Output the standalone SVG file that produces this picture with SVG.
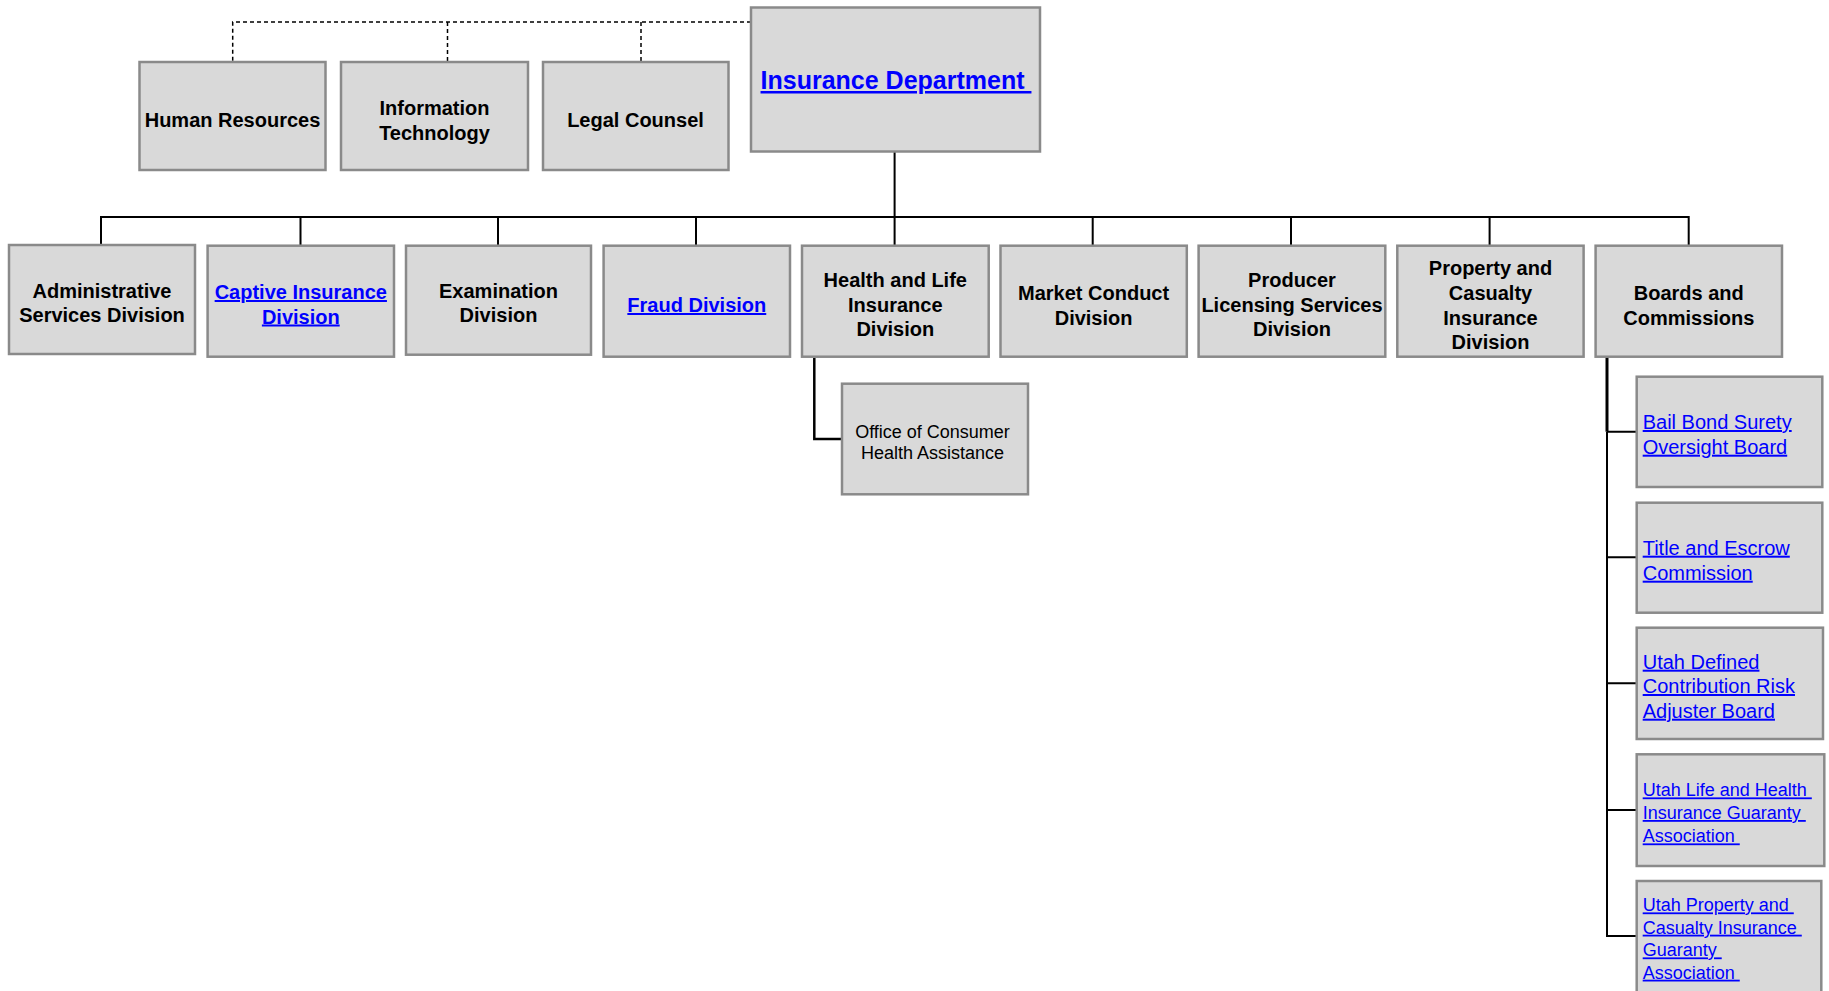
<svg xmlns="http://www.w3.org/2000/svg" width="1829" height="991" viewBox="0 0 1829 991">
<style>
.box{fill:#d9d9d9;stroke:#8a8a8a;stroke-width:2.5}
.b{font-family:"Liberation Sans",Arial,sans-serif;font-weight:bold;font-size:20px;fill:#000;text-anchor:middle}
.bl{font-family:"Liberation Sans",Arial,sans-serif;font-weight:bold;font-size:20px;fill:#0000ff;text-anchor:middle;text-decoration:underline}
.r{font-family:"Liberation Sans",Arial,sans-serif;font-size:18px;fill:#000;text-anchor:middle}
.l20{font-family:"Liberation Sans",Arial,sans-serif;font-size:20px;fill:#0000ff;text-decoration:underline;white-space:pre}
.l18{font-family:"Liberation Sans",Arial,sans-serif;font-size:18px;fill:#0000ff;text-decoration:underline;white-space:pre}
.c{stroke:#000;stroke-width:2;fill:none}
.d{stroke:#000;stroke-width:1.5;fill:none;stroke-dasharray:4 3}
</style>
<rect width="1829" height="991" fill="#fff"/>
<g id="connectors">
<path class="d" d="M751 22 H232.7 V62 M447.5 22 V62 M641 22 V62"/>
<path class="c" d="M894.6 152 V217 M101 217 H1688.7 M101 216 V245 M300.5 216 V245 M498 216 V245 M696 216 V245 M894.6 216 V245 M1092.7 216 V245 M1291 216 V245 M1489.6 216 V245 M1688.7 216 V245"/>
<path class="c" style="stroke-width:2.5" d="M814.3 358 V439 H842"/>
<path class="c" style="stroke-width:3" d="M1607 357 V431.7"/>
<path class="c" d="M1607 431.7 V936 H1637 M1607 431.7 H1637 M1607 557.3 H1637 M1607 683.3 H1637 M1607 810 H1637"/>
</g>
<g id="dept"><rect class="box" x="751" y="7.5" width="289" height="144"/><text class="bl" x="896" y="89" style="font-size:25px;white-space:pre">Insurance Department </text></g>
<g id="hr"><rect class="box" x="139.5" y="62" width="186" height="108"/><text class="b" x="232.5" y="127">Human Resources</text></g>
<g id="it"><rect class="box" x="341" y="62" width="187" height="108"/><text class="b" x="434.5" y="114.5">Information</text><text class="b" x="434.5" y="139.5">Technology</text></g>
<g id="legal"><rect class="box" x="543" y="62" width="185.5" height="108"/><text class="b" x="635.5" y="127">Legal Counsel</text></g>
<g id="admin"><rect class="box" x="9" y="245" width="186" height="109"/><text class="b" x="102" y="297.7">Administrative</text><text class="b" x="102" y="322.2">Services Division</text></g>
<g id="captive"><rect class="box" x="207.6" y="245.7" width="186.4" height="111"/><text class="bl" x="300.8" y="299">Captive Insurance</text><text class="bl" x="300.8" y="323.5">Division</text></g>
<g id="exam"><rect class="box" x="406" y="245.7" width="185" height="109"/><text class="b" x="498.5" y="297.7">Examination</text><text class="b" x="498.5" y="322.2">Division</text></g>
<g id="fraud"><rect class="box" x="603.6" y="245.7" width="186.4" height="111"/><text class="bl" x="696.8" y="312">Fraud Division</text></g>
<g id="health"><rect class="box" x="802" y="245.7" width="186.7" height="111"/><text class="b" x="895.3" y="287">Health and Life</text><text class="b" x="895.3" y="312">Insurance</text><text class="b" x="895.3" y="336">Division</text></g>
<g id="office"><rect class="box" x="842" y="383.7" width="186" height="110.6"/><text class="r" x="932.5" y="437.5">Office of Consumer</text><text class="r" x="932.5" y="458.5">Health Assistance</text></g>
<g id="market"><rect class="box" x="1000.5" y="245.7" width="186.3" height="111"/><text class="b" x="1093.6" y="300">Market Conduct</text><text class="b" x="1093.6" y="324.5">Division</text></g>
<g id="producer"><rect class="box" x="1198.6" y="245.7" width="186.7" height="111"/><text class="b" x="1292" y="287">Producer</text><text class="b" x="1292" y="312">Licensing Services</text><text class="b" x="1292" y="336">Division</text></g>
<g id="pc"><rect class="box" x="1397.3" y="245.7" width="186.3" height="111"/><text class="b" x="1490.5" y="275">Property and</text><text class="b" x="1490.5" y="300">Casualty</text><text class="b" x="1490.5" y="324.5">Insurance</text><text class="b" x="1490.5" y="349">Division</text></g>
<g id="boards"><rect class="box" x="1595.6" y="245.7" width="186.4" height="111"/><text class="b" x="1688.8" y="300">Boards and</text><text class="b" x="1688.8" y="324.5">Commissions</text></g>
<g id="bail"><rect class="box" x="1636.7" y="376.7" width="185.6" height="110.3"/><text class="l20" x="1642.7" y="429">Bail Bond Surety</text><text class="l20" x="1642.7" y="453.7">Oversight Board</text></g>
<g id="title"><rect class="box" x="1636.7" y="502.7" width="185.6" height="110"/><text class="l20" x="1642.7" y="554.7">Title and Escrow</text><text class="l20" x="1642.7" y="579.7">Commission</text></g>
<g id="udcr"><rect class="box" x="1636.7" y="627.7" width="186.3" height="111.3"/><text class="l20" x="1642.7" y="668.7">Utah Defined</text><text class="l20" x="1642.7" y="693">Contribution Risk</text><text class="l20" x="1642.7" y="717.7">Adjuster Board</text></g>
<g id="ulh"><rect class="box" x="1636.7" y="754.3" width="187.6" height="111.7"/><text class="l18" x="1642.7" y="796.4">Utah Life and Health </text><text class="l18" x="1642.7" y="819">Insurance Guaranty </text><text class="l18" x="1642.7" y="842.4">Association </text></g>
<g id="upc"><rect class="box" x="1636.7" y="881" width="184.6" height="112"/><text class="l18" x="1642.7" y="911.4">Utah Property and </text><text class="l18" x="1642.7" y="933.7">Casualty Insurance </text><text class="l18" x="1642.7" y="956.4">Guaranty </text><text class="l18" x="1642.7" y="978.7">Association </text></g>
</svg>
